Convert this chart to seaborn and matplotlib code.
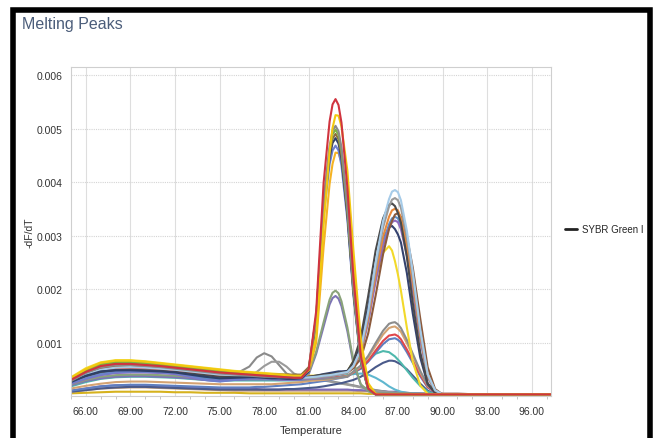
import matplotlib
matplotlib.use('Agg')
import matplotlib.pyplot as plt
from matplotlib.lines import Line2D
from matplotlib.patches import Rectangle
from matplotlib.ticker import MultipleLocator, FormatStrFormatter
import seaborn as sns
import pandas as pd

# temperature grid (deg C) shared by every melt curve
temps = [65, 66, 67, 68, 69, 70, 71, 72, 73, 74, 75, 76, 77, 77.5, 78, 78.5, 79, 79.5, 80,
         80.5, 81, 81.5, 82, 82.4, 82.6, 82.8, 83.0, 83.2, 83.6, 84, 84.5, 85, 85.5,
         86, 86.4, 86.6, 86.8, 87.0, 87.2, 87.6, 88, 88.5, 89, 89.5, 90, 91, 93, 95, 97.3]

# -dF/dT values, in units of 1e-3
# tall peak near 82.8
a_red = [0.30, 0.45, 0.56, 0.60, 0.60, 0.58, 0.56, 0.53, 0.50, 0.47, 0.44, 0.42, 0.40, 0.39, 0.38, 0.37, 0.36, 0.35, 0.34,
         0.34, 0.50, 1.59, 3.99, 5.13, 5.45, 5.55, 5.44, 5.11, 3.89, 2.24, 0.75, 0.14, 0.03,
         0.03, 0.03, 0.03, 0.03, 0.03, 0.03, 0.03, 0.03, 0.03, 0.03, 0.03, 0.03, 0.03, 0.03, 0.03, 0.03]
a_yellow = [0.34, 0.50, 0.62, 0.66, 0.66, 0.64, 0.61, 0.58, 0.55, 0.52, 0.49, 0.46, 0.44, 0.43, 0.42, 0.41, 0.40, 0.39, 0.38,
            0.38, 0.48, 1.11, 3.20, 4.57, 5.01, 5.25, 5.24, 5.04, 4.21, 2.74, 1.07, 0.24, 0.04,
            0.03, 0.03, 0.03, 0.03, 0.03, 0.03, 0.03, 0.03, 0.03, 0.03, 0.03, 0.03, 0.03, 0.03, 0.03, 0.03]
a_gray = [0.28, 0.43, 0.54, 0.58, 0.58, 0.56, 0.54, 0.51, 0.48, 0.45, 0.42, 0.40, 0.38, 0.37, 0.36, 0.36, 0.35, 0.35, 0.36,
          0.36, 0.50, 1.49, 3.64, 4.67, 4.96, 5.05, 4.95, 4.65, 3.54, 2.04, 0.68, 0.13, 0.03,
          0.03, 0.03, 0.03, 0.03, 0.03, 0.03, 0.03, 0.03, 0.03, 0.03, 0.03, 0.03, 0.03, 0.03, 0.03, 0.03]
a_green = [0.31, 0.47, 0.59, 0.63, 0.63, 0.61, 0.58, 0.55, 0.52, 0.49, 0.46, 0.43, 0.41, 0.40, 0.39, 0.38, 0.37, 0.36, 0.35,
           0.35, 0.49, 1.46, 3.59, 4.61, 4.89, 4.98, 4.88, 4.58, 3.50, 2.01, 0.67, 0.13, 0.03,
           0.03, 0.03, 0.03, 0.03, 0.03, 0.03, 0.03, 0.03, 0.03, 0.03, 0.03, 0.03, 0.03, 0.03, 0.03, 0.03]
a_navy = [0.26, 0.38, 0.46, 0.48, 0.48, 0.47, 0.46, 0.44, 0.40, 0.36, 0.33, 0.34, 0.35, 0.35, 0.34, 0.33, 0.33, 0.32, 0.32,
          0.33, 0.46, 1.40, 3.47, 4.46, 4.73, 4.82, 4.72, 4.44, 3.38, 1.95, 0.65, 0.13, 0.03,
          0.03, 0.03, 0.03, 0.03, 0.03, 0.03, 0.03, 0.03, 0.03, 0.03, 0.03, 0.03, 0.03, 0.03, 0.03, 0.03]
a_blue = [0.24, 0.33, 0.40, 0.44, 0.45, 0.45, 0.44, 0.42, 0.37, 0.30, 0.27, 0.30, 0.33, 0.33, 0.33, 0.32, 0.32, 0.31, 0.31,
          0.31, 0.44, 1.36, 3.37, 4.33, 4.59, 4.68, 4.59, 4.31, 3.29, 1.89, 0.63, 0.12, 0.03,
          0.03, 0.03, 0.03, 0.03, 0.03, 0.03, 0.03, 0.03, 0.03, 0.03, 0.03, 0.03, 0.03, 0.03, 0.03, 0.03]
a_orange = [0.33, 0.49, 0.60, 0.65, 0.65, 0.63, 0.60, 0.57, 0.54, 0.51, 0.48, 0.45, 0.43, 0.42, 0.41, 0.40, 0.39, 0.38, 0.37,
            0.37, 0.45, 1.00, 2.79, 3.96, 4.34, 4.55, 4.54, 4.37, 3.65, 2.38, 0.93, 0.21, 0.04,
            0.03, 0.03, 0.03, 0.03, 0.03, 0.03, 0.03, 0.03, 0.03, 0.03, 0.03, 0.03, 0.03, 0.03, 0.03, 0.03]
a_brown = [0.32, 0.47, 0.58, 0.62, 0.62, 0.60, 0.58, 0.55, 0.52, 0.49, 0.46, 0.44, 0.42, 0.41, 0.41, 0.40, 0.40, 0.40, 0.40,
           0.40, 0.54, 1.48, 3.55, 4.54, 4.81, 4.90, 4.80, 4.51, 3.44, 1.98, 0.66, 0.13, 0.03,
           0.03, 0.03, 0.03, 0.03, 0.03, 0.03, 0.03, 0.03, 0.03, 0.03, 0.03, 0.03, 0.03, 0.03, 0.03, 0.03]

# tall peak near 86.8
b_lightblue = [0.27, 0.40, 0.49, 0.53, 0.54, 0.53, 0.51, 0.49, 0.46, 0.43, 0.40, 0.39, 0.38, 0.37, 0.36, 0.35, 0.35, 0.34, 0.34,
               0.34, 0.35, 0.36, 0.38, 0.39, 0.40, 0.41, 0.42, 0.43, 0.45, 0.56, 0.87, 1.58, 2.49,
               3.27, 3.68, 3.82, 3.85, 3.81, 3.66, 3.09, 2.32, 1.25, 0.41, 0.11, 0.03, 0.03, 0.03, 0.03, 0.03]
b_gray = [0.29, 0.44, 0.55, 0.59, 0.59, 0.57, 0.55, 0.52, 0.49, 0.46, 0.43, 0.41, 0.39, 0.38, 0.37, 0.36, 0.35, 0.34, 0.33,
          0.33, 0.33, 0.34, 0.36, 0.37, 0.38, 0.39, 0.40, 0.41, 0.43, 0.56, 0.85, 1.53, 2.40,
          3.15, 3.54, 3.67, 3.70, 3.66, 3.52, 2.97, 2.23, 1.20, 0.40, 0.10, 0.03, 0.03, 0.03, 0.03, 0.03]
b_charcoal = [0.25, 0.37, 0.45, 0.48, 0.49, 0.48, 0.47, 0.45, 0.42, 0.39, 0.36, 0.36, 0.36, 0.36, 0.35, 0.35, 0.34, 0.34, 0.34,
              0.35, 0.36, 0.38, 0.40, 0.41, 0.41, 0.42, 0.43, 0.44, 0.46, 0.65, 1.09, 1.87, 2.72,
              3.32, 3.57, 3.60, 3.55, 3.42, 3.24, 2.60, 1.74, 0.82, 0.24, 0.07, 0.03, 0.03, 0.03, 0.03, 0.03]
b_orange = [0.33, 0.48, 0.60, 0.64, 0.64, 0.62, 0.59, 0.56, 0.53, 0.50, 0.47, 0.44, 0.42, 0.41, 0.40, 0.39, 0.38, 0.37, 0.36,
            0.36, 0.36, 0.37, 0.38, 0.39, 0.40, 0.41, 0.42, 0.43, 0.45, 0.55, 0.82, 1.46, 2.28,
            2.98, 3.35, 3.47, 3.50, 3.47, 3.33, 2.81, 2.11, 1.14, 0.38, 0.10, 0.03, 0.03, 0.03, 0.03, 0.03]
b_brown = [0.28, 0.41, 0.50, 0.54, 0.55, 0.54, 0.52, 0.50, 0.47, 0.44, 0.41, 0.40, 0.38, 0.37, 0.37, 0.36, 0.35, 0.35, 0.34,
           0.34, 0.34, 0.35, 0.37, 0.38, 0.39, 0.40, 0.41, 0.42, 0.44, 0.52, 0.70, 1.17, 1.88,
           2.65, 3.12, 3.27, 3.39, 3.42, 3.35, 2.98, 2.40, 1.45, 0.54, 0.13, 0.03, 0.03, 0.03, 0.03, 0.03]
b_purple = [0.23, 0.32, 0.39, 0.43, 0.44, 0.44, 0.43, 0.41, 0.36, 0.30, 0.28, 0.31, 0.33, 0.33, 0.33, 0.32, 0.32, 0.31, 0.31,
            0.31, 0.32, 0.33, 0.35, 0.37, 0.38, 0.39, 0.40, 0.41, 0.44, 0.54, 0.80, 1.39, 2.15,
            2.80, 3.14, 3.25, 3.28, 3.25, 3.12, 2.63, 1.98, 1.07, 0.36, 0.10, 0.03, 0.03, 0.03, 0.03, 0.03]
b_navy = [0.26, 0.38, 0.46, 0.48, 0.48, 0.47, 0.46, 0.44, 0.40, 0.35, 0.32, 0.33, 0.34, 0.34, 0.34, 0.33, 0.33, 0.33, 0.33,
          0.34, 0.36, 0.38, 0.41, 0.43, 0.44, 0.45, 0.46, 0.46, 0.47, 0.62, 1.00, 1.68, 2.42,
          2.94, 3.15, 3.18, 3.12, 3.02, 2.87, 2.30, 1.54, 0.72, 0.22, 0.06, 0.03, 0.03, 0.03, 0.03, 0.03]
b_yellow = [0.35, 0.52, 0.63, 0.67, 0.67, 0.65, 0.62, 0.59, 0.56, 0.53, 0.50, 0.47, 0.45, 0.44, 0.43, 0.42, 0.41, 0.40, 0.39,
            0.38, 0.38, 0.38, 0.39, 0.40, 0.41, 0.42, 0.43, 0.44, 0.46, 0.65, 0.97, 1.51, 2.19,
            2.68, 2.80, 2.72, 2.52, 2.27, 1.97, 1.28, 0.64, 0.20, 0.04, 0.03, 0.03, 0.03, 0.03, 0.03, 0.03]
b_steel = [0.25, 0.36, 0.43, 0.46, 0.47, 0.46, 0.45, 0.43, 0.39, 0.34, 0.31, 0.32, 0.34, 0.34, 0.34, 0.33, 0.33, 0.32, 0.32,
           0.32, 0.33, 0.34, 0.36, 0.38, 0.39, 0.40, 0.41, 0.42, 0.44, 0.55, 0.81, 1.41, 2.19,
           2.86, 3.21, 3.32, 3.35, 3.32, 3.18, 2.69, 2.02, 1.09, 0.36, 0.10, 0.03, 0.03, 0.03, 0.03, 0.03]

# small peak near 82.8
c_sage = [0.22, 0.30, 0.36, 0.39, 0.40, 0.40, 0.39, 0.38, 0.36, 0.34, 0.33, 0.33, 0.33, 0.33, 0.33, 0.33, 0.32, 0.32, 0.32,
          0.34, 0.44, 0.83, 1.38, 1.80, 1.93, 1.97, 1.92, 1.77, 1.28, 0.65, 0.22, 0.09, 0.05,
          0.05, 0.05, 0.05, 0.05, 0.05, 0.05, 0.05, 0.04, 0.04, 0.04, 0.04, 0.03, 0.03, 0.03, 0.03, 0.03]
c_violet = [0.20, 0.28, 0.33, 0.36, 0.37, 0.37, 0.36, 0.35, 0.33, 0.30, 0.29, 0.30, 0.31, 0.31, 0.31, 0.31, 0.30, 0.30, 0.30,
            0.31, 0.41, 0.79, 1.30, 1.71, 1.83, 1.87, 1.82, 1.68, 1.21, 0.61, 0.21, 0.09, 0.05,
            0.05, 0.05, 0.05, 0.05, 0.05, 0.05, 0.05, 0.04, 0.04, 0.04, 0.04, 0.03, 0.03, 0.03, 0.03, 0.03]

# small peak near 86.7
d_gray = [0.28, 0.42, 0.52, 0.56, 0.57, 0.55, 0.53, 0.50, 0.47, 0.44, 0.41, 0.39, 0.37, 0.36, 0.35, 0.34, 0.33, 0.32, 0.31,
          0.31, 0.31, 0.32, 0.32, 0.33, 0.33, 0.34, 0.34, 0.35, 0.36, 0.46, 0.57, 0.75, 0.99,
          1.22, 1.35, 1.37, 1.38, 1.34, 1.27, 1.05, 0.79, 0.47, 0.20, 0.08, 0.04, 0.04, 0.03, 0.03, 0.03]
d_tan = [0.14, 0.19, 0.23, 0.26, 0.27, 0.27, 0.26, 0.25, 0.24, 0.23, 0.22, 0.22, 0.22, 0.22, 0.22, 0.22, 0.23, 0.24, 0.25,
         0.26, 0.28, 0.29, 0.30, 0.31, 0.32, 0.33, 0.34, 0.35, 0.37, 0.45, 0.55, 0.72, 0.94,
         1.15, 1.27, 1.29, 1.30, 1.26, 1.20, 0.99, 0.75, 0.44, 0.19, 0.08, 0.04, 0.04, 0.03, 0.03, 0.03]
d_red = [0.26, 0.39, 0.48, 0.52, 0.53, 0.52, 0.50, 0.48, 0.45, 0.42, 0.39, 0.38, 0.37, 0.36, 0.35, 0.34, 0.33, 0.33, 0.32,
         0.32, 0.32, 0.33, 0.33, 0.34, 0.34, 0.35, 0.35, 0.36, 0.37, 0.44, 0.53, 0.66, 0.85,
         1.03, 1.13, 1.14, 1.15, 1.12, 1.06, 0.87, 0.66, 0.40, 0.17, 0.07, 0.04, 0.04, 0.03, 0.03, 0.03]
d_blue = [0.10, 0.14, 0.18, 0.20, 0.21, 0.21, 0.20, 0.19, 0.18, 0.17, 0.16, 0.16, 0.16, 0.17, 0.17, 0.18, 0.19, 0.20, 0.21,
          0.22, 0.24, 0.26, 0.28, 0.30, 0.31, 0.32, 0.33, 0.34, 0.36, 0.44, 0.51, 0.64, 0.81,
          0.97, 1.06, 1.07, 1.08, 1.05, 1.00, 0.82, 0.62, 0.37, 0.16, 0.07, 0.04, 0.04, 0.03, 0.03, 0.03]
d_teal = [0.18, 0.26, 0.32, 0.35, 0.36, 0.36, 0.35, 0.34, 0.32, 0.30, 0.29, 0.29, 0.29, 0.29, 0.29, 0.29, 0.29, 0.29, 0.29,
          0.29, 0.30, 0.30, 0.31, 0.32, 0.33, 0.34, 0.35, 0.36, 0.39, 0.42, 0.52, 0.66, 0.79,
          0.84, 0.82, 0.78, 0.74, 0.68, 0.62, 0.48, 0.34, 0.19, 0.08, 0.04, 0.03, 0.03, 0.03, 0.03, 0.03]
d_navy = [0.08, 0.11, 0.14, 0.16, 0.17, 0.17, 0.16, 0.15, 0.14, 0.13, 0.12, 0.12, 0.12, 0.12, 0.12, 0.12, 0.12, 0.13, 0.13,
          0.14, 0.15, 0.16, 0.18, 0.20, 0.21, 0.22, 0.23, 0.24, 0.27, 0.30, 0.36, 0.44, 0.54,
          0.62, 0.66, 0.66, 0.65, 0.62, 0.59, 0.50, 0.38, 0.23, 0.10, 0.04, 0.03, 0.03, 0.03, 0.03, 0.03]

# two gray bumps near 78-79
e_gray1 = [0.27, 0.40, 0.49, 0.53, 0.53, 0.52, 0.50, 0.47, 0.44, 0.42, 0.40, 0.40, 0.55, 0.72, 0.80, 0.74, 0.58, 0.42, 0.36,
           0.34, 0.33, 0.32, 0.30, 0.28, 0.27, 0.26, 0.25, 0.24, 0.22, 0.20, 0.17, 0.14, 0.11,
           0.09, 0.07, 0.07, 0.06, 0.06, 0.05, 0.05, 0.04, 0.04, 0.04, 0.03, 0.03, 0.03, 0.03, 0.03, 0.03]
e_gray2 = [0.25, 0.36, 0.44, 0.47, 0.48, 0.47, 0.46, 0.44, 0.41, 0.39, 0.38, 0.37, 0.38, 0.45, 0.56, 0.64, 0.64, 0.55, 0.42,
           0.36, 0.33, 0.31, 0.29, 0.27, 0.26, 0.25, 0.24, 0.23, 0.21, 0.19, 0.16, 0.13, 0.10,
           0.08, 0.07, 0.07, 0.06, 0.06, 0.05, 0.05, 0.04, 0.04, 0.04, 0.03, 0.03, 0.03, 0.03, 0.03, 0.03]

# flat / background curves
f_purple = [0.10, 0.14, 0.18, 0.20, 0.20, 0.19, 0.18, 0.17, 0.16, 0.15, 0.14, 0.13, 0.13, 0.13, 0.12, 0.12, 0.12, 0.12, 0.12,
            0.12, 0.12, 0.12, 0.12, 0.12, 0.12, 0.12, 0.12, 0.12, 0.12, 0.11, 0.11, 0.10, 0.10,
            0.09, 0.08, 0.08, 0.08, 0.07, 0.07, 0.06, 0.05, 0.05, 0.04, 0.04, 0.03, 0.03, 0.03, 0.03, 0.03]
f_mustard = [0.05, 0.06, 0.07, 0.08, 0.08, 0.08, 0.08, 0.07, 0.07, 0.06, 0.06, 0.06, 0.05, 0.05, 0.05, 0.05, 0.05, 0.05, 0.05,
             0.05, 0.05, 0.05, 0.05, 0.05, 0.05, 0.05, 0.05, 0.05, 0.05, 0.05, 0.05, 0.04, 0.04,
             0.04, 0.04, 0.04, 0.04, 0.04, 0.04, 0.04, 0.03, 0.03, 0.03, 0.03, 0.03, 0.03, 0.03, 0.03, 0.03]
f_tan = [0.08, 0.11, 0.14, 0.15, 0.16, 0.16, 0.15, 0.14, 0.13, 0.12, 0.11, 0.10, 0.10, 0.10, 0.10, 0.10, 0.10, 0.10, 0.10,
         0.10, 0.10, 0.10, 0.10, 0.10, 0.10, 0.10, 0.10, 0.10, 0.10, 0.10, 0.09, 0.09, 0.08,
         0.08, 0.07, 0.07, 0.07, 0.06, 0.06, 0.05, 0.05, 0.04, 0.04, 0.03, 0.03, 0.03, 0.03, 0.03, 0.03]
f_cyan = [0.20, 0.28, 0.34, 0.37, 0.38, 0.38, 0.37, 0.36, 0.34, 0.32, 0.30, 0.30, 0.30, 0.30, 0.30, 0.30, 0.30, 0.30, 0.30,
          0.30, 0.31, 0.32, 0.33, 0.34, 0.345, 0.35, 0.36, 0.37, 0.39, 0.41, 0.42, 0.40, 0.34,
          0.26, 0.18, 0.15, 0.12, 0.10, 0.08, 0.06, 0.05, 0.04, 0.04, 0.03, 0.03, 0.03, 0.03, 0.03, 0.03]

# drawing order (first drawn at the back) and colours
curves = [
    ('f_mustard', f_mustard, '#d6b21e'), ('f_tan', f_tan, '#c9a07a'),
    ('f_purple', f_purple, '#7e6bb8'), ('f_cyan', f_cyan, '#5fb7cf'),
    ('e_gray1', e_gray1, '#8a8a8a'), ('e_gray2', e_gray2, '#9a9a9a'),
    ('d_navy', d_navy, '#4a5a8a'), ('d_teal', d_teal, '#4fb8ac'),
    ('d_blue', d_blue, '#5f7fc0'), ('d_red', d_red, '#e0474c'),
    ('d_tan', d_tan, '#d4a373'), ('d_gray', d_gray, '#8c8c8c'),
    ('c_violet', c_violet, '#7d74b5'), ('c_sage', c_sage, '#8aa37a'),
    ('b_yellow', b_yellow, '#f2d92a'), ('b_navy', b_navy, '#34426e'),
    ('b_steel', b_steel, '#5b8fc9'), ('b_purple', b_purple, '#8e6bbf'),
    ('b_brown', b_brown, '#8c5a3c'), ('b_orange', b_orange, '#e8893a'),
    ('b_charcoal', b_charcoal, '#4a4a4a'), ('b_gray', b_gray, '#9a9a9a'),
    ('b_lightblue', b_lightblue, '#a6cbe8'),
    ('a_orange', a_orange, '#f5b323'), ('a_blue', a_blue, '#6d7fcc'),
    ('a_navy', a_navy, '#2e3f66'), ('a_brown', a_brown, '#8d6e3f'),
    ('a_green', a_green, '#7cb342'), ('a_gray', a_gray, '#8a8a8a'),
    ('a_yellow', a_yellow, '#f2c80f'), ('a_red', a_red, '#d0343f'),
]

rows = []
for name, vals, _ in curves:
    assert len(vals) == len(temps), name
    for t, v in zip(temps, vals):
        rows.append({'curve': name, 'temp': t, 'dfdt': v * 1e-3})
df = pd.DataFrame(rows)
names = [c[0] for c in curves]
palette = {c[0]: c[2] for c in curves}

sns.set_style('white')
plt.rcParams['font.family'] = ['Liberation Sans', 'DejaVu Sans']

fig = plt.figure(figsize=(6.57, 4.39), dpi=100)
ax = fig.add_axes([71 / 657, 1 - 397 / 439, 480 / 657, 329 / 439])

sns.lineplot(data=df, x='temp', y='dfdt', hue='curve', hue_order=names, palette=palette,
             estimator=None, sort=False, lw=1.5, legend=False, ax=ax)

ax.set_xlim(65.0, 97.3)
ax.set_ylim(0, 0.00615)
ax.set_xticks([66, 69, 72, 75, 78, 81, 84, 87, 90, 93, 96])
ax.xaxis.set_minor_locator(MultipleLocator(1))
ax.xaxis.set_major_formatter(FormatStrFormatter('%.2f'))
ax.set_yticks([0.001, 0.002, 0.003, 0.004, 0.005, 0.006])
ax.yaxis.set_major_formatter(FormatStrFormatter('%.3f'))

ax.grid(axis='x', which='major', color='#dedede', lw=0.8)
ax.grid(axis='y', which='major', color='#d4d4d4', lw=0.8, ls=(0, (1, 1)))
ax.set_axisbelow(True)
for sp in ax.spines.values():
    sp.set_color('#cfcfcf')
    sp.set_linewidth(0.8)

ax.tick_params(axis='both', which='major', length=4, color='#bdbdbd',
               labelcolor='#333333', labelsize=7.5)
ax.tick_params(axis='x', which='minor', length=2.5, color='#bdbdbd', bottom=True)
ax.tick_params(axis='y', pad=2)

ax.set_xlabel('Temperature', fontsize=8, color='#333333')
ax.set_ylabel('-dF/dT', fontsize=7.5, color='#333333')
ax.xaxis.set_label_coords(0.5, -(426 - 397) / 329)
ax.yaxis.set_label_coords((35 - 71) / 480, 0.5)

fig.text(22 / 657, 1 - 25 / 439, 'Melting Peaks', fontsize=11.5,
         color='#4b5d7a', ha='left', va='center')

handle = Line2D([0], [0], color='#222222', lw=2)
fig.legend([handle], ['SYBR Green I'], loc='center left',
           bbox_to_anchor=(565 / 657, 1 - 230 / 439), frameon=False,
           fontsize=7, handlelength=1.2, handletextpad=0.55,
           borderpad=0, borderaxespad=0)

# black frame of the screenshot (bottom edge lies below the picture)
fig.patches.append(Rectangle((12.5 / 657, -10 / 439), (650 - 12.5) / 657, (439 - 11 + 10) / 439,
                             transform=fig.transFigure, fill=False, lw=4,
                             edgecolor='black', zorder=10))

fig.savefig('out.png', dpi=100)
